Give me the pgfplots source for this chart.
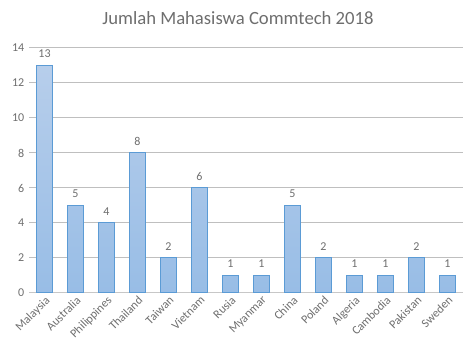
\documentclass[border=0pt]{standalone}
\usepackage{pgfplots}
\pgfplotsset{compat=1.18}
\usepackage{fontspec}
\setmainfont{Carlito}
\definecolor{txt}{RGB}{110,110,110}
\definecolor{grid}{RGB}{217,217,217}
\definecolor{barline}{RGB}{91,155,213}
\definecolor{bartop}{RGB}{183,206,235}
\definecolor{barbot}{RGB}{152,189,230}
\begin{document}
\begin{tikzpicture}
\useasboundingbox (0pt,0pt) rectangle (357pt,265.5pt);
\node[font=\fontsize{14}{16}\selectfont, text=txt] at (178.5pt,252pt) {Jumlah Mahasiswa Commtech 2018};
\begin{axis}[
  at={(21.75pt,45.75pt)}, anchor=south west,
  scale only axis, width=325.5pt, height=183.75pt,
  xmin=-0.5, xmax=13.5, ymin=0, ymax=14,
  ytick={0,2,...,14},
  xtick={0,...,13},
  xticklabels={Malaysia,Australia,Philippines,Thailand,Taiwan,Vietnam,Rusia,Myanmar,China,Poland,Algeria,Cambodia,Pakistan,Sweden},
  x tick label style={rotate=45, anchor=north east, font=\fontsize{9}{10}\selectfont, text=txt, inner sep=1pt},
  y tick label style={font=\fontsize{9}{10}\selectfont, text=txt},
  /pgf/number format/assume math mode=true,
  major tick length=0pt,
  ymajorgrids, xmajorgrids=false, grid style={grid, line width=0.75pt},
  axis x line*=bottom, axis y line*=left,
  x axis line style={draw=grid!80!gray, line width=0.75pt, -},
  y axis line style={draw=none},
  clip=false,
  nodes near coords,
  every node near coord/.append style={font=\fontsize{9}{10}\selectfont, text=txt, yshift=2pt},
]
\addplot[ybar, bar width=0.52, draw=barline, line width=0.75pt, top color=bartop, bottom color=barbot] coordinates {
(0,13) (1,5) (2,4) (3,8) (4,2) (5,6) (6,1) (7,1) (8,5) (9,2) (10,1) (11,1) (12,2) (13,1)};
\end{axis}
\end{tikzpicture}
\end{document}
